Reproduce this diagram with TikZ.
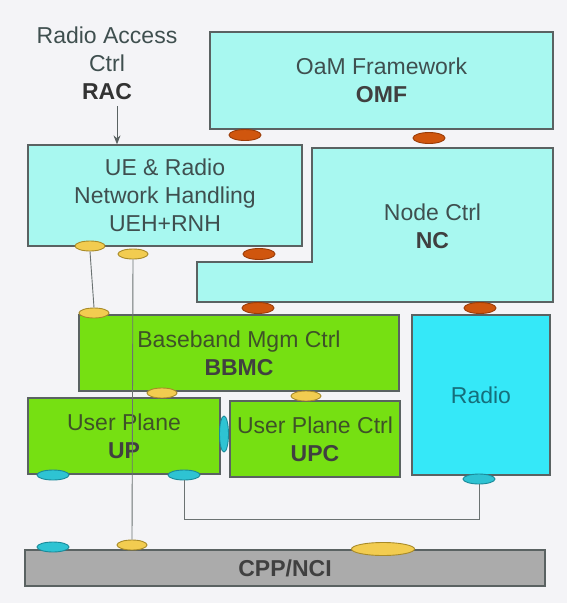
\documentclass[tikz,border=0pt]{standalone}
\usepackage{fontspec}
\setmainfont{Liberation Sans}
\usetikzlibrary{shapes.geometric,arrows.meta}
\definecolor{bgc}{HTML}{F4F4F7}
\definecolor{aqua}{HTML}{A8F8F0}
\definecolor{lgreen}{HTML}{76E012}
\definecolor{rcyan}{HTML}{35E8F8}
\definecolor{cppgray}{HTML}{ABABAB}
\definecolor{edge}{HTML}{5A6262}
\definecolor{txt}{HTML}{3F4F4F}
\definecolor{gtxt}{HTML}{3E5228}
\definecolor{orf}{HTML}{D0560E}
\definecolor{ord}{HTML}{9A3C08}
\definecolor{yef}{HTML}{F2CC50}
\definecolor{yed}{HTML}{A88A28}
\definecolor{cyf}{HTML}{2EC3D3}
\definecolor{cyd}{HTML}{1A8A9A}
\tikzset{
  box/.style={draw=edge, line width=1.3pt, inner sep=0pt, align=center,
    font=\fontsize{23}{28}\selectfont, text=txt},
  cbox/.style={box, fill=aqua},
  gbox/.style={box, fill=lgreen, text=gtxt},
  port/.style={ellipse, inner sep=0pt, line width=0.9pt},
  oport/.style={port, fill=orf, draw=ord, minimum width=32pt, minimum height=11pt},
  yport/.style={port, fill=yef, draw=yed, minimum width=30pt, minimum height=10pt},
  cport/.style={port, fill=cyf, draw=cyd, minimum width=32pt, minimum height=10pt},
  link/.style={draw=edge!90, line width=0.9pt},
  lbl/.style={inner sep=0pt, align=center, font=\fontsize{23}{28}\selectfont, text=txt}
}
\begin{document}
\begin{tikzpicture}[x=1pt,y=-1pt]
\useasboundingbox[fill=bgc] (0,0) rectangle (567,603);

% RAC label and arrow
\node[lbl] (rac) at (107,63) {Radio Access\\Ctrl\\\textbf{\color{black!80}RAC}};
\coordinate (arrtop) at (117,106);

% boxes
\node[cbox, minimum width=343pt, minimum height=97pt] (omf) at (381.5,80.5)
  {OaM Framework\\\textbf{\color{black!75}OMF}};
\node[cbox, minimum width=274pt, minimum height=101pt] (ueh) at (165,195.5)
  {UE \& Radio\\Network Handling\\UEH+RNH};
\draw[draw=edge, line width=1.3pt, fill=aqua]
  (312,148) -- (553,148) -- (553,302) -- (197,302) -- (197,262) -- (312,262) -- cycle;
\node[lbl] (nc) at (432.5,226) {Node Ctrl\\\textbf{\color{black!75}NC}};
\node[gbox, minimum width=320pt, minimum height=76pt] (bbmc) at (239,353)
  {Baseband Mgm Ctrl\\\textbf{\color{black!75}BBMC}};
\node[gbox, minimum width=192pt, minimum height=76pt] (up) at (124,436)
  {User Plane\\\textbf{\color{black!75}UP}};
\node[gbox, minimum width=170pt, minimum height=76pt] (upc) at (315,439)
  {User Plane Ctrl\\\textbf{\color{black!75}UPC}};
\node[box, fill=rcyan, text=cyd!80!black, minimum width=138pt, minimum height=160pt] (radio) at (481,395)
  {Radio};
\node[box, fill=cppgray, minimum width=520pt, minimum height=36pt] (cpp) at (285,568)
  {\textbf{\color{black!75}CPP/NCI}};

% arrow
\draw[edge, line width=1pt, -{Stealth[length=9pt,width=7pt]}] (arrtop) -- (arrtop |- ueh.north);

% ports
\node[oport] (o1) at (245,135) {};
\node[oport] (o2) at (429,138) {};
\node[oport] (o3) at (259,254) {};
\node[oport] (o4) at (258,308) {};
\node[oport] (o5) at (480,308) {};

\node[yport] (y1) at (90,246) {};
\node[yport] (y2) at (133,254) {};
\node[yport] (y3) at (94,313) {};
\node[yport] (y4) at (162,393) {};
\node[yport] (y5) at (306,396) {};
\node[yport] (y6) at (132,545) {};
\node[yport, minimum width=63pt, minimum height=13pt] (y7) at (383,549) {};

\node[cport, minimum width=9pt, minimum height=36pt] (c1) at (224,434) {};
\node[cport] (c2) at (53,475) {};
\node[cport] (c3) at (184,475) {};
\node[cport] (c4) at (479,479) {};
\node[cport] (c5) at (53,547) {};

% connectors
\coordinate (turn) at (479,519);
\draw[link] (y1.south) -- (y3.north);
\draw[link] (y2.south) -- (y6.north);
\draw[link] (c3.south) |- (turn) -- (c4.south);
\end{tikzpicture}
\end{document}
